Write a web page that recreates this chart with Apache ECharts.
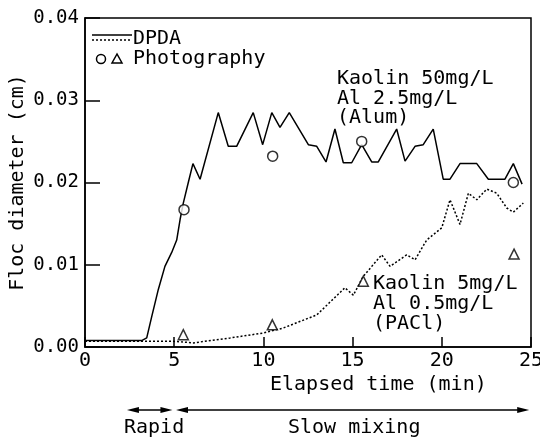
<!DOCTYPE html>
<html>
<head>
<meta charset="utf-8">
<script src="https://cdn.jsdelivr.net/npm/echarts@6/dist/echarts.min.js"></script>
<style>
  html, body { margin: 0; background: #fff; }
  #main { width: 540px; height: 438px; }
</style>
</head>
<body>
<div id="main"></div>
<script>
// DPDA trace, Kaolin 50mg/L + Alum
var alumTime = [0, 3.2, 3.46, 3.74, 4.11, 4.48, 4.86, 5.14, 5.33, 5.51, 5.79, 6.05, 6.45, 7.47, 8.03, 8.5, 9.43, 9.96, 10.47, 10.93, 11.45, 12.52, 12.99, 13.51, 14.01, 14.48, 14.95, 15.51, 16.07, 16.44, 17.47, 17.94, 18.5, 18.96, 19.52, 20.08, 20.46, 21.02, 21.96, 22.61, 23.54, 24.01, 24.5];
var alumDia = [0.0008, 0.0008, 0.0011, 0.0037, 0.007, 0.0098, 0.0115, 0.013, 0.0155, 0.0175, 0.02, 0.0223, 0.0204, 0.0285, 0.0244, 0.0244, 0.0285, 0.0246, 0.0285, 0.0267, 0.0285, 0.0246, 0.0244, 0.0225, 0.0265, 0.0224, 0.0224, 0.0246, 0.0225, 0.0225, 0.0265, 0.0226, 0.0244, 0.0246, 0.0265, 0.0204, 0.0204, 0.0223, 0.0223, 0.0204, 0.0204, 0.0223, 0.0198];

// DPDA trace, Kaolin 5mg/L + PACl
var paclTime = [0, 4.95, 6.07, 8.13, 9.99, 11.1, 12.99, 14.57, 15.04, 15.6, 16.63, 17.1, 18.03, 18.5, 19.15, 20.0, 20.46, 21.02, 21.49, 21.96, 22.52, 23.08, 23.64, 24.01, 24.57];
var paclDia = [0.0007, 0.0007, 0.0005, 0.0011, 0.0017, 0.0023, 0.0039, 0.0072, 0.0063, 0.0086, 0.0112, 0.0098, 0.0112, 0.0106, 0.013, 0.0145, 0.0179, 0.0149, 0.0187, 0.0179, 0.0192, 0.0187, 0.0169, 0.0164, 0.0175];

// photography
var photoAlumTime = [5.55, 10.52, 15.51, 24.01];
var photoAlumDia = [0.0167, 0.0232, 0.025, 0.02];
var photoPaclTime = [5.51, 10.5, 15.6, 24.05];
var photoPaclDia = [0.0015, 0.0027, 0.008, 0.0113];

// mixing phases (min)
var rapidSpan = [2.35, 4.9];
var slowSpan = [5.1, 24.9];

function zip(a, b) {
  return a.map(function (v, i) { return [v, b[i]]; });
}

var FONT = 'DejaVu Sans Mono';
var chart = echarts.init(document.getElementById('main'));

var option = {
  animation: false,
  backgroundColor: '#fff',
  textStyle: { fontFamily: FONT, color: '#000' },
  grid: {
    left: 85, right: 9, top: 18, bottom: 91,
    outerBoundsMode: 'none', containLabel: false,
    show: true, borderColor: '#000', borderWidth: 1.5
  },
  xAxis: {
    type: 'value', min: 0, max: 25, interval: 5,
    axisLine: { lineStyle: { color: '#000', width: 1.5 } },
    axisTick: { inside: true, length: 10, lineStyle: { color: '#000', width: 1.5 } },
    axisLabel: { color: '#000', fontFamily: FONT, fontSize: 20, margin: 4 },
    splitLine: { show: false }
  },
  yAxis: {
    type: 'value', min: 0, max: 0.04, interval: 0.01,
    name: 'Floc diameter (cm)', nameLocation: 'middle', nameRotate: 90, nameGap: 57,
    nameMoveOverlap: false,
    nameTextStyle: { color: '#000', fontFamily: FONT, fontSize: 20 },
    axisLine: { lineStyle: { color: '#000', width: 1.5 } },
    axisTick: { inside: true, length: 15, lineStyle: { color: '#000', width: 1.5 } },
    axisLabel: {
      color: '#000', fontFamily: FONT, fontSize: 19, margin: 6,
      formatter: function (v) { return v.toFixed(2); }
    },
    splitLine: { show: false }
  },
  series: [
    {
      name: 'Alum', type: 'line', data: zip(alumTime, alumDia),
      showSymbol: false, lineStyle: { color: '#000', width: 1.5 }
    },
    {
      name: 'PACl', type: 'line', data: zip(paclTime, paclDia),
      showSymbol: false, lineStyle: { color: '#000', width: 1.5, type: [2, 2] }
    },
    {
      name: 'photoAlum', type: 'scatter', data: zip(photoAlumTime, photoAlumDia),
      symbol: 'circle', symbolSize: 10,
      itemStyle: { color: '#fff', borderColor: '#000', borderWidth: 1.5 }, z: 5
    },
    {
      name: 'photoPacl', type: 'scatter', data: zip(photoPaclTime, photoPaclDia),
      symbol: 'triangle', symbolSize: 10,
      itemStyle: { color: '#fff', borderColor: '#000', borderWidth: 1.5 }, z: 5
    }
  ]
};
chart.setOption(option);

// legend, labels and arrows
var txt = function (x, y, s) {
  return {
    type: 'text', x: x, y: y,
    style: { text: s, font: '20px "' + FONT + '"', fill: '#000', textAlign: 'left', textVerticalAlign: 'middle' }
  };
};
function arrow(x1, x2, y) {
  var h = 12, w = 3;
  return [
    { type: 'line', shape: { x1: x1 + 4, y1: y, x2: x2 - 4, y2: y }, style: { stroke: '#000', lineWidth: 1.5 } },
    { type: 'polygon', shape: { points: [[x1, y], [x1 + h, y - w], [x1 + h, y + w]] }, style: { fill: '#000' } },
    { type: 'polygon', shape: { points: [[x2, y], [x2 - h, y - w], [x2 - h, y + w]] }, style: { fill: '#000' } }
  ];
}
var px = function (v) { return chart.convertToPixel({ xAxisIndex: 0 }, v); };
var arrowY = 410;

var g = [
  { type: 'line', shape: { x1: 92, y1: 35, x2: 132, y2: 35 }, style: { stroke: '#000', lineWidth: 1.5 } },
  { type: 'line', shape: { x1: 92, y1: 40, x2: 132, y2: 40 }, style: { stroke: '#000', lineWidth: 1.5, lineDash: [2, 2] } },
  { type: 'circle', shape: { cx: 101, cy: 59, r: 4.5 }, style: { fill: '#fff', stroke: '#000', lineWidth: 1.5 } },
  { type: 'polygon', shape: { points: [[117, 54], [112, 63], [122, 63]] }, style: { fill: '#fff', stroke: '#000', lineWidth: 1.5 } },
  txt(133, 39, 'DPDA'),
  txt(133, 59, 'Photography'),
  txt(337, 79, 'Kaolin 50mg/L'),
  txt(337, 99, 'Al 2.5mg/L'),
  txt(337, 118, '(Alum)'),
  txt(373, 284, 'Kaolin 5mg/L'),
  txt(373, 304, 'Al 0.5mg/L'),
  txt(373, 324, '(PACl)'),
  txt(270, 385, 'Elapsed time (min)'),
  txt(124, 428, 'Rapid'),
  txt(288, 428, 'Slow mixing')
];
g = g.concat(arrow(px(rapidSpan[0]), px(rapidSpan[1]), arrowY));
g = g.concat(arrow(px(slowSpan[0]), px(slowSpan[1]), arrowY));
chart.setOption({ graphic: g });
</script>
</body>
</html>
